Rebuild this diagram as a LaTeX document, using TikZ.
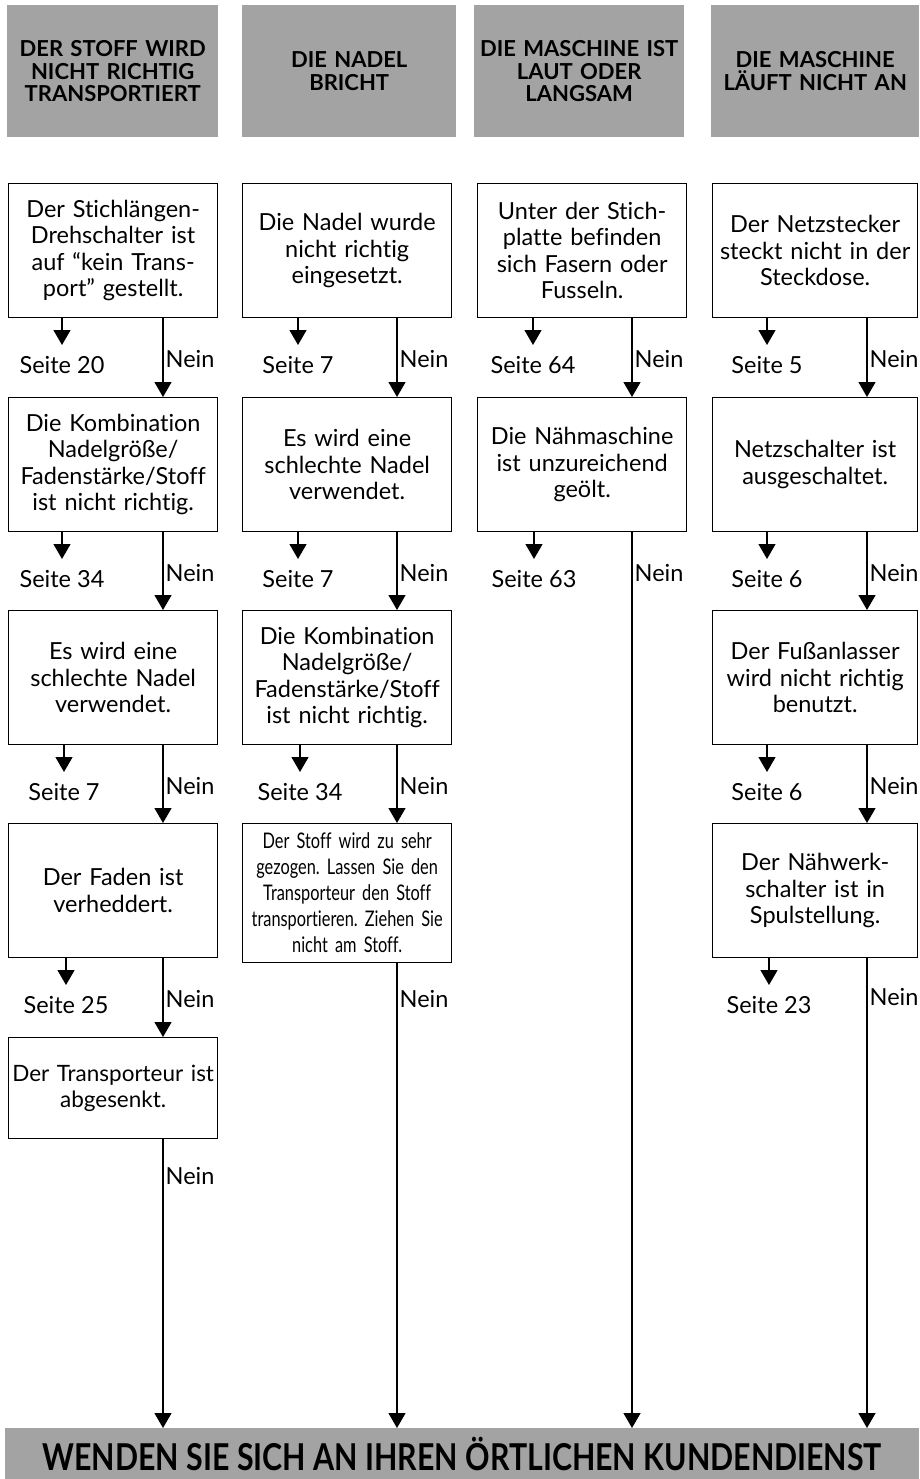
\documentclass[tikz,border=0pt]{standalone}
\usepackage{fontspec}
\setmainfont[Ligatures=NoCommon]{Lato}
\newfontfamily\condfont[FakeStretch=0.76,Ligatures=NoCommon]{Lato}
\newfontfamily\bannerfont[FakeStretch=0.82]{Lato}
\usetikzlibrary{arrows.meta}
\definecolor{hatch}{gray}{0.64}
\frenchspacing
\begin{document}
\begin{tikzpicture}[x=1pt,y=-1pt,
  box/.style={draw, line width=1.3pt, anchor=north west, align=center,
    text width=205pt, inner xsep=2pt, inner ysep=0pt, minimum height=134pt,
    font=\fontsize{23.5}{26.5}\selectfont},
  head/.style={fill=hatch, anchor=north west, align=center, inner sep=0pt,
    minimum height=132pt, font=\bfseries\fontsize{22}{22.5}\selectfont},
  seite/.style={anchor=north, inner sep=0pt, font=\fontsize{23.5}{23.5}\selectfont},
  nein/.style={anchor=west, inner sep=2pt, font=\fontsize{23.5}{23.5}\selectfont},
  arr/.style={line width=1.3pt, -{Triangle[width=17pt,length=15pt]}},
  ln/.style={line width=1.3pt}]
\useasboundingbox (0,0) rectangle (919,1479);

% headers
\node[head, text width=211pt] (h1) at (7,5) {DER STOFF WIRD\\NICHT RICHTIG\\TRANSPORTIERT};
\node[head, text width=214pt] (h2) at (242,5) {DIE NADEL\\BRICHT};
\node[head, text width=210pt] (h3) at (474,5) {DIE MASCHINE IST\\LAUT ODER\\LANGSAM};
\node[head, text width=208pt] (h4) at (711,5) {DIE MASCHINE\\LÄUFT NICHT AN};

% Nein columns
\coordinate (n1) at (163,0);
\coordinate (n2) at (397,0);
\coordinate (n3) at (632,0);
\coordinate (n4) at (867,0);

% column 1
\node[box] (b11) at (8,183) {Der Stichlängen-\\Drehschalter ist\\auf “kein Trans-\\port” gestellt.};
\node[box] (b12) at (8,397) {Die Kombination\\Nadelgröße/\\Fadenstärke/Stoff\\ist nicht richtig.};
\node[box] (b13) at (8,610) {Es wird eine\\schlechte Nadel\\verwendet.};
\node[box] (b14) at (8,823) {Der Faden ist\\verheddert.};
\node[box, minimum height=101pt, inner xsep=1pt, text width=207pt,
  font=\fontsize{22.5}{26.5}\selectfont] (b15) at (8,1037) {\mbox{Der Transporteur ist}\\abgesenkt.};
\node[seite] (s11) at (62,356) {Seite 20};
\node[seite] (s12) at (62,570) {Seite 34};
\node[seite] (s13) at (64,783) {Seite 7};
\node[seite] (s14) at (66,996) {Seite 25};

% column 2
\node[box] (b21) at (242,183) {Die Nadel wurde\\nicht richtig\\eingesetzt.};
\node[box] (b22) at (242,397) {Es wird eine\\schlechte Nadel\\verwendet.};
\node[box] (b23) at (242,610) {Die Kombination\\Nadelgröße/\\Fadenstärke/Stoff\\ist nicht richtig.};
\node[box, minimum height=139pt, font=\condfont\fontsize{21.5}{26}\selectfont] (b24) at (242,823)
  {Der Stoff wird zu sehr\\gezogen. Lassen Sie den\\Transporteur den Stoff\\transportieren. Ziehen Sie\\nicht am Stoff.};
\node[seite] (s21) at (298,356) {Seite 7};
\node[seite] (s22) at (298,570) {Seite 7};
\node[seite] (s23) at (300,783) {Seite 34};

% column 3
\node[box] (b31) at (477,183) {Unter der Stich-\\platte befinden\\sich Fasern oder\\Fusseln.};
\node[box] (b32) at (477,397) {Die Nähmaschine\\ist unzureichend\\geölt.};
\node[seite] (s31) at (533,356) {Seite 64};
\node[seite] (s32) at (534,570) {Seite 63};

% column 4
\node[box, text width=201pt] (b41) at (712,183) {Der Netzstecker\\steckt nicht in der\\Steckdose.};
\node[box, text width=201pt] (b42) at (712,397) {Netzschalter ist\\ausgeschaltet.};
\node[box, text width=201pt] (b43) at (712,610) {Der Fußanlasser\\wird nicht richtig\\benutzt.};
\node[box, text width=201pt] (b44) at (712,823) {Der Nähwerk-\\schalter ist in\\Spulstellung.};
\node[seite] (s41) at (767,356) {Seite 5};
\node[seite] (s42) at (767,570) {Seite 6};
\node[seite] (s43) at (767,783) {Seite 6};
\node[seite] (s44) at (769,996) {Seite 23};

% banner
\node[fill=hatch, anchor=north west, minimum width=914pt, minimum height=51pt, inner sep=0pt,
  font=\bannerfont\bfseries\fontsize{37}{37}\selectfont] (banner) at (5,1428)
  {WENDEN SIE SICH AN IHREN ÖRTLICHEN KUNDENDIENST};

% Seite arrows
\foreach \b/\s in {b11/s11,b12/s12,b13/s13,b14/s14,b21/s21,b22/s22,b23/s23,
                   b31/s31,b32/s32,b41/s41,b42/s42,b43/s43,b44/s44}{
  \draw[arr] (\s.north |- \b.south) -- ([yshift=11pt]\s.north);
}

% Nein arrows between boxes
\foreach \a/\b/\n in {b11/b12/n1,b12/b13/n1,b13/b14/n1,b14/b15/n1,
                      b21/b22/n2,b22/b23/n2,b23/b24/n2,
                      b31/b32/n3,
                      b41/b42/n4,b42/b43/n4,b43/b44/n4}{
  \draw[arr] (\a.south -| \n) -- node[nein, pos=0.52] {Nein} (\b.north -| \n);
}

% Nein arrows to banner
\draw[arr] (b15.south -| n1) -- node[nein, pos=0.128] {Nein} (banner.north -| n1);
\draw[arr] (b24.south -| n2) -- node[nein, pos=0.077] {Nein} (banner.north -| n2);
\draw[arr] (b32.south -| n3) -- node[nein, pos=0.045] {Nein} (banner.north -| n3);
\draw[arr] (b44.south -| n4) -- node[nein, pos=0.083] {Nein} (banner.north -| n4);
\end{tikzpicture}
\end{document}
